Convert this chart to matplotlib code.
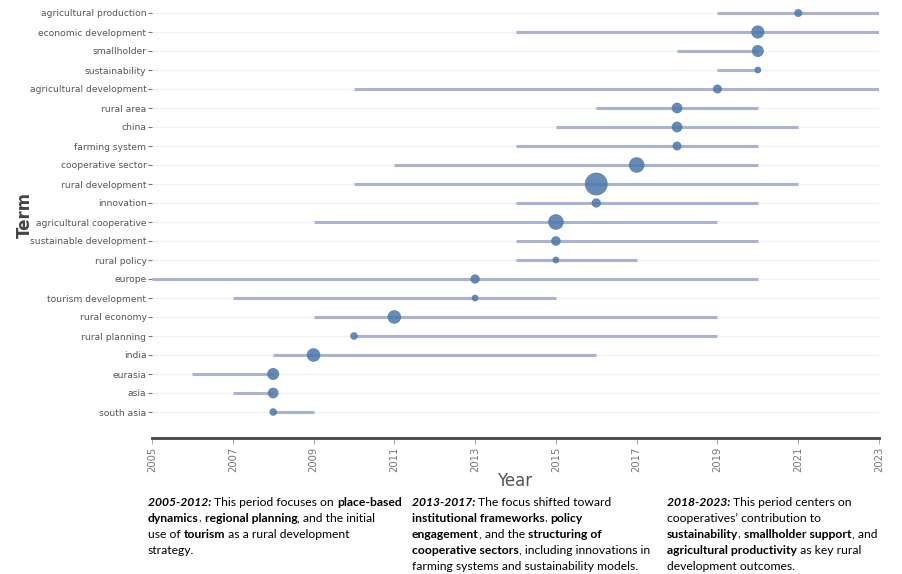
import matplotlib
matplotlib.use("Agg")
import matplotlib.pyplot as plt

# terms listed top to bottom
terms = ["agricultural production", "economic development", "smallholder", "sustainability",
         "agricultural development", "rural area", "china", "farming system", "cooperative sector",
         "rural development", "innovation", "agricultural cooperative", "sustainable development",
         "rural policy", "europe", "tourism development", "rural economy", "rural planning",
         "india", "eurasia", "asia", "south asia"]
year_start = [2019, 2014, 2018, 2019, 2010, 2016, 2015, 2014, 2011, 2010, 2014, 2009, 2014,
              2014, 2005, 2007, 2009, 2010, 2008, 2006, 2007, 2008]
year_end = [2023, 2023, 2020, 2020, 2023, 2020, 2021, 2020, 2020, 2021, 2020, 2019, 2020,
            2017, 2020, 2015, 2019, 2019, 2016, 2008, 2008, 2009]
year_median = [2021, 2020, 2020, 2020, 2019, 2018, 2018, 2018, 2017, 2016, 2016, 2015, 2015,
               2015, 2013, 2013, 2011, 2010, 2009, 2008, 2008, 2008]
freq = [11, 30, 25, 8, 14, 20, 20, 14, 42, 90, 15, 42, 16, 8, 15, 8, 32, 10, 32, 25, 20, 10]
year_ticks = list(range(2005, 2024, 2))

W, H = 902, 574
fig = plt.figure(figsize=(W / 100, H / 100), dpi=100)
ax = fig.add_axes([152 / W, 1 - 438 / H, 727 / W, 438 / H])

n = len(terms)
ypos = [n - 1 - i for i in range(n)]

for y in ypos:
    ax.axhline(y, color="#f1f1f4", lw=1.0, zorder=0)
ax.hlines(ypos, year_start, year_end, color="#aab3d3", lw=2.2, zorder=1)
ax.scatter(year_median, ypos, s=[f * 3.0 for f in freq], color="#4a77aa", alpha=0.85,
           edgecolors="none", zorder=2)

ax.set_xlim(2005, 2023)
ax.set_ylim(-(438 - 412) / 19, n - 1 + 13 / 19)
ax.set_yticks(ypos)
ax.set_yticklabels(terms, fontsize=6.6, color="#555555")
ax.set_xticks(year_ticks)
ax.set_xticklabels([str(t) for t in year_ticks], rotation=90, fontsize=7.2, color="#777777")
ax.tick_params(axis="y", length=3, width=0.8, color="#777777", pad=1)
ax.tick_params(axis="x", length=4, width=0.6, color="#999999", pad=2)
for s in ["top", "right", "left"]:
    ax.spines[s].set_visible(False)
ax.spines["bottom"].set_color("#444444")
ax.spines["bottom"].set_linewidth(2)

fig.text(515 / W, 1 - 481 / H, "Year", fontsize=12, color="#555555", ha="center", va="center")
fig.text(25 / W, 1 - 215 / H, "Term", fontsize=12, fontweight="bold", color="#444444",
         rotation=90, ha="center", va="center")

# bottom notes with mixed styles
N, B, BI = ("normal", "normal"), ("bold", "normal"), ("bold", "italic")
notes = [
    (148, [
        [("2005-2012: ", BI), ("This period focuses on ", N), ("place-based", B)],
        [("dynamics", B), (", ", N), ("regional planning", B), (", and the initial", N)],
        [("use of ", N), ("tourism", B), (" as a rural development", N)],
        [("strategy.", N)],
    ]),
    (412, [
        [("2013-2017: ", BI), ("The focus shifted toward", N)],
        [("institutional frameworks", B), (", ", N), ("policy", B)],
        [("engagement", B), (", and the ", N), ("structuring of", B)],
        [("cooperative sectors", B), (", including innovations in", N)],
        [("farming systems and sustainability models.", N)],
    ]),
    (667, [
        [("2018-2023: ", BI), ("This period centers on", N)],
        [("cooperatives\u2019 contribution to", N)],
        [("sustainability", B), (", ", N), ("smallholder support", B), (", and", N)],
        [("agricultural productivity", B), (" as key rural", N)],
        [("development outcomes.", N)],
    ]),
]

r = fig.canvas.get_renderer()


def text_width(s, wt, st, size):
    t = fig.text(0, 0, "|" + s + "|", fontsize=size, fontweight=wt, fontstyle=st, family="Lato")
    w1 = t.get_window_extent(renderer=r).width
    t.set_text("||")
    w2 = t.get_window_extent(renderer=r).width
    t.remove()
    return w1 - w2


size = 8.7
for x0, lines in notes:
    for k, line in enumerate(lines):
        x = x0
        yy = 502 + k * 16
        for s, (wt, st) in line:
            fig.text(x / W, 1 - yy / H, s, fontsize=size, fontweight=wt, fontstyle=st,
                     family="Lato", color="black", va="center", ha="left")
            x += text_width(s, wt, st, size)

fig.savefig("out.png", dpi=100)
